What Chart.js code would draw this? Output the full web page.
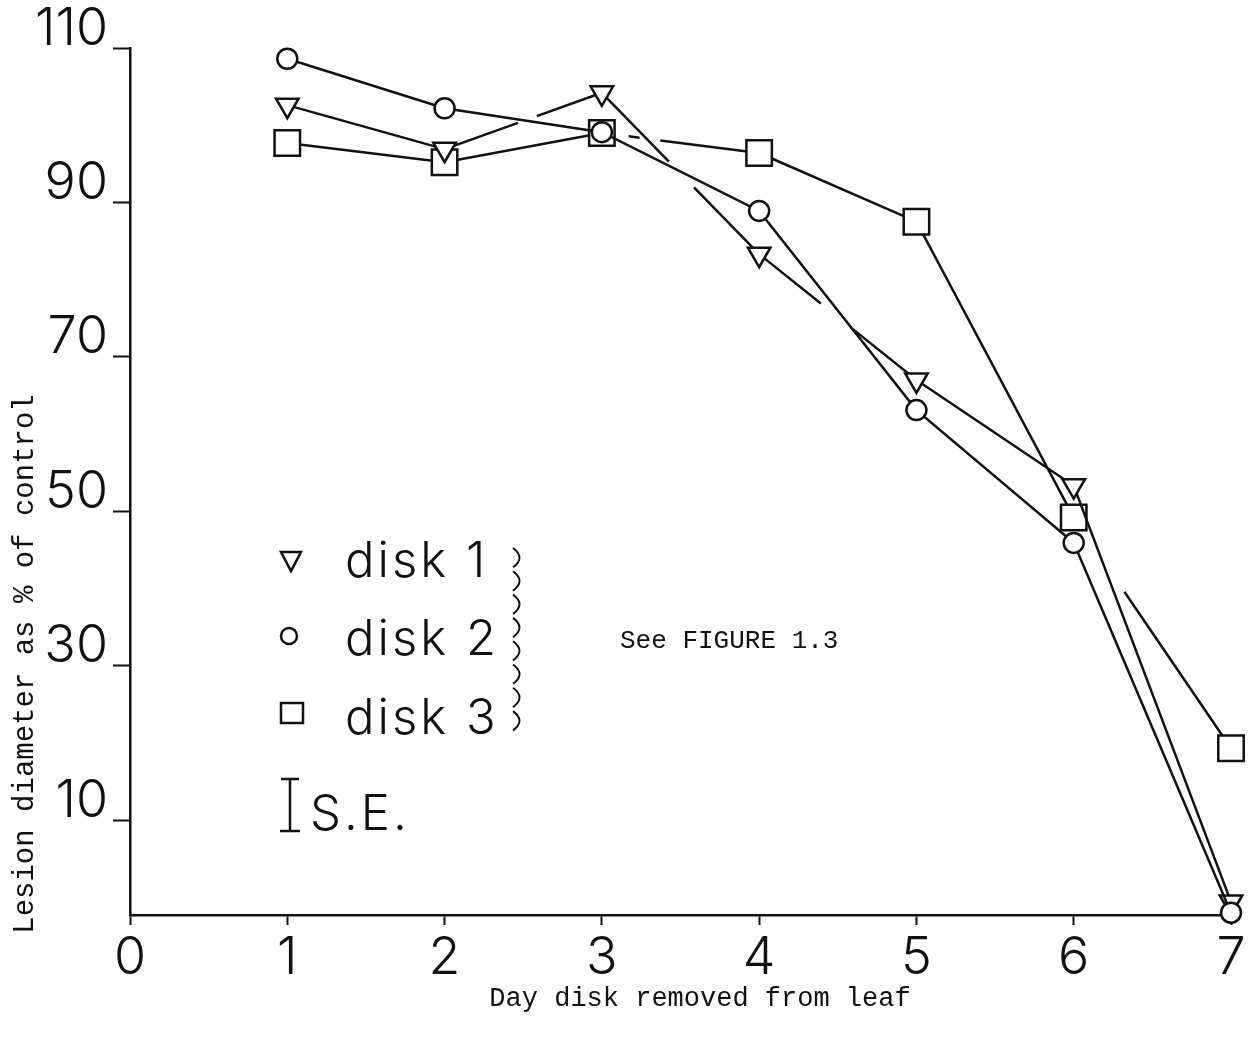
<!DOCTYPE html>
<html><head><meta charset="utf-8">
<script src="https://cdn.jsdelivr.net/npm/chart.js@4/dist/chart.umd.min.js"></script>
<style>html,body{margin:0;padding:0;background:#fff;overflow:hidden}</style>
</head><body><canvas id="c" width="1260" height="1037"></canvas>
<script>
const days = [1, 2, 3, 4, 5, 6, 7];
const disk1 = [102.6, 96.9, 104.2, 83.3, 67.0, 53.3, -0.6];
const disk2 = [108.6, 102.2, 99.1, 88.9, 63.1, 45.9, -2.0];
const disk3 = [97.7, 95.2, 99.0, 96.4, 87.5, 49.2, 19.3];
const xTicks = [0, 1, 2, 3, 4, 5, 6, 7];
const yTicks = [10, 30, 50, 70, 90, 110];
const seriesNames = ['disk 1', 'disk 2', 'disk 3'];
const seLabel = 'S.E.';
const xTitle = 'Day disk removed from leaf';
const yTitle = 'Lesion diameter as % of control';
const note = 'See FIGURE 1.3';

// hand-drawn breaks in the lines where they cross (per segment, pixels along segment)
const breaks1 = [[], [78, 20, 2000], [96, 36, 2000], [79, 41, 2000], [], []];
const breaks2 = [[], [], [], [], [], []];
const breaks3 = [[], [], [13, 14, 11, 21, 2000], [], [], [12, 78, 2000]];

const INK = '#111';
function ds(label, values, style, r, rot, order, breaks) {
  return {
    label, data: days.map((d, i) => ({ x: d, y: values[i] })),
    borderColor: INK, borderWidth: 2.5, pointStyle: style, pointRadius: r,
    pointHoverRadius: r, pointRotation: rot, pointBorderColor: INK,
    pointBackgroundColor: '#fff', pointBorderWidth: 2.5, tension: 0, order, clip: false,
    segment: { borderDash: c => breaks[c.p0DataIndex] || [] }
  };
}

const overlay = {
  id: 'overlay',
  afterDraw(chart) {
    const ctx = chart.ctx;
    ctx.save();
    ctx.strokeStyle = INK; ctx.fillStyle = INK; ctx.lineWidth = 2.5;
    // legend symbols
    ctx.beginPath(); ctx.moveTo(281, 552); ctx.lineTo(301, 552); ctx.lineTo(291, 571); ctx.closePath(); ctx.stroke();
    ctx.beginPath(); ctx.arc(289, 636, 8, 0, 2 * Math.PI); ctx.stroke();
    ctx.strokeRect(281, 703, 22, 20);
    ctx.beginPath();
    ctx.moveTo(290, 779); ctx.lineTo(290, 831);
    ctx.moveTo(281, 779); ctx.lineTo(299, 779);
    ctx.moveTo(280, 831); ctx.lineTo(300, 831);
    ctx.stroke();
    // legend text
    ctx.font = '300 49px Inter';
    ctx.letterSpacing = '3px';
    ctx.textAlign = 'left'; ctx.textBaseline = 'alphabetic';
    ctx.fillText(seriesNames[0], 345, 577);
    ctx.fillText(seriesNames[1], 345, 655);
    ctx.fillText(seriesNames[2], 345, 734);
    ctx.fillText(seLabel, 310, 830);
    ctx.letterSpacing = '0px';
    // braces
    ctx.lineWidth = 2;
    for (let i = 0; i < 8; i++) {
      const y0 = 546 + i * 23.3;
      ctx.beginPath(); ctx.moveTo(513, y0 + 2); ctx.quadraticCurveTo(526, y0 + 11.6, 513, y0 + 21.3); ctx.stroke();
    }
    // note
    ctx.font = '26px "Liberation Mono"';
    ctx.fillText(note, 620, 648);
    // x title
    ctx.font = '27px "Liberation Mono"';
    ctx.textAlign = 'center';
    ctx.fillText(xTitle, 700, 1006);
    // y title
    ctx.save();
    ctx.translate(33, 664); ctx.rotate(-Math.PI / 2);
    ctx.font = '29px "Liberation Mono"';
    ctx.fillText(yTitle, 0, 0);
    ctx.restore();
    ctx.restore();
  }
};

new Chart(document.getElementById('c'), {
  type: 'line',
  data: {
    datasets: [
      ds(seriesNames[0], disk1, 'triangle', 13, 180, 1, breaks1),
      ds(seriesNames[1], disk2, 'circle', 10, 0, 0, breaks2),
      ds(seriesNames[2], disk3, 'rect', 18, 0, 2, breaks3)
    ]
  },
  options: {
    responsive: false, animation: false, events: [],
    layout: { padding: { top: 48, right: 29, left: 0, bottom: 0 } },
    plugins: { legend: { display: false }, tooltip: { enabled: false } },
    scales: {
      x: {
        type: 'linear', min: 0, max: 7,
        afterBuildTicks: s => { s.ticks = xTicks.map(v => ({ value: v })); },
        afterFit: s => { s.height = 122; },
        grid: { drawOnChartArea: false, drawTicks: true, tickLength: 10, tickColor: INK, tickWidth: 2 },
        border: { display: true, color: INK, width: 2.5 },
        ticks: { color: INK, font: { family: 'Inter', size: 52, weight: 300 }, padding: 2, maxRotation: 0, autoSkip: false }
      },
      y: {
        type: 'linear', min: -2.3, max: 110,
        afterBuildTicks: s => { s.ticks = yTicks.map(v => ({ value: v })); },
        afterFit: s => { s.width = 130; },
        grid: { drawOnChartArea: false, drawTicks: true, tickLength: 17, tickColor: INK, tickWidth: 2 },
        border: { display: true, color: INK, width: 2.5 },
        ticks: { color: INK, font: { family: 'Inter', size: 52, weight: 300 }, padding: 5, labelOffset: -19, autoSkip: false }
      }
    }
  },
  plugins: [overlay]
});
</script>
</body></html>
